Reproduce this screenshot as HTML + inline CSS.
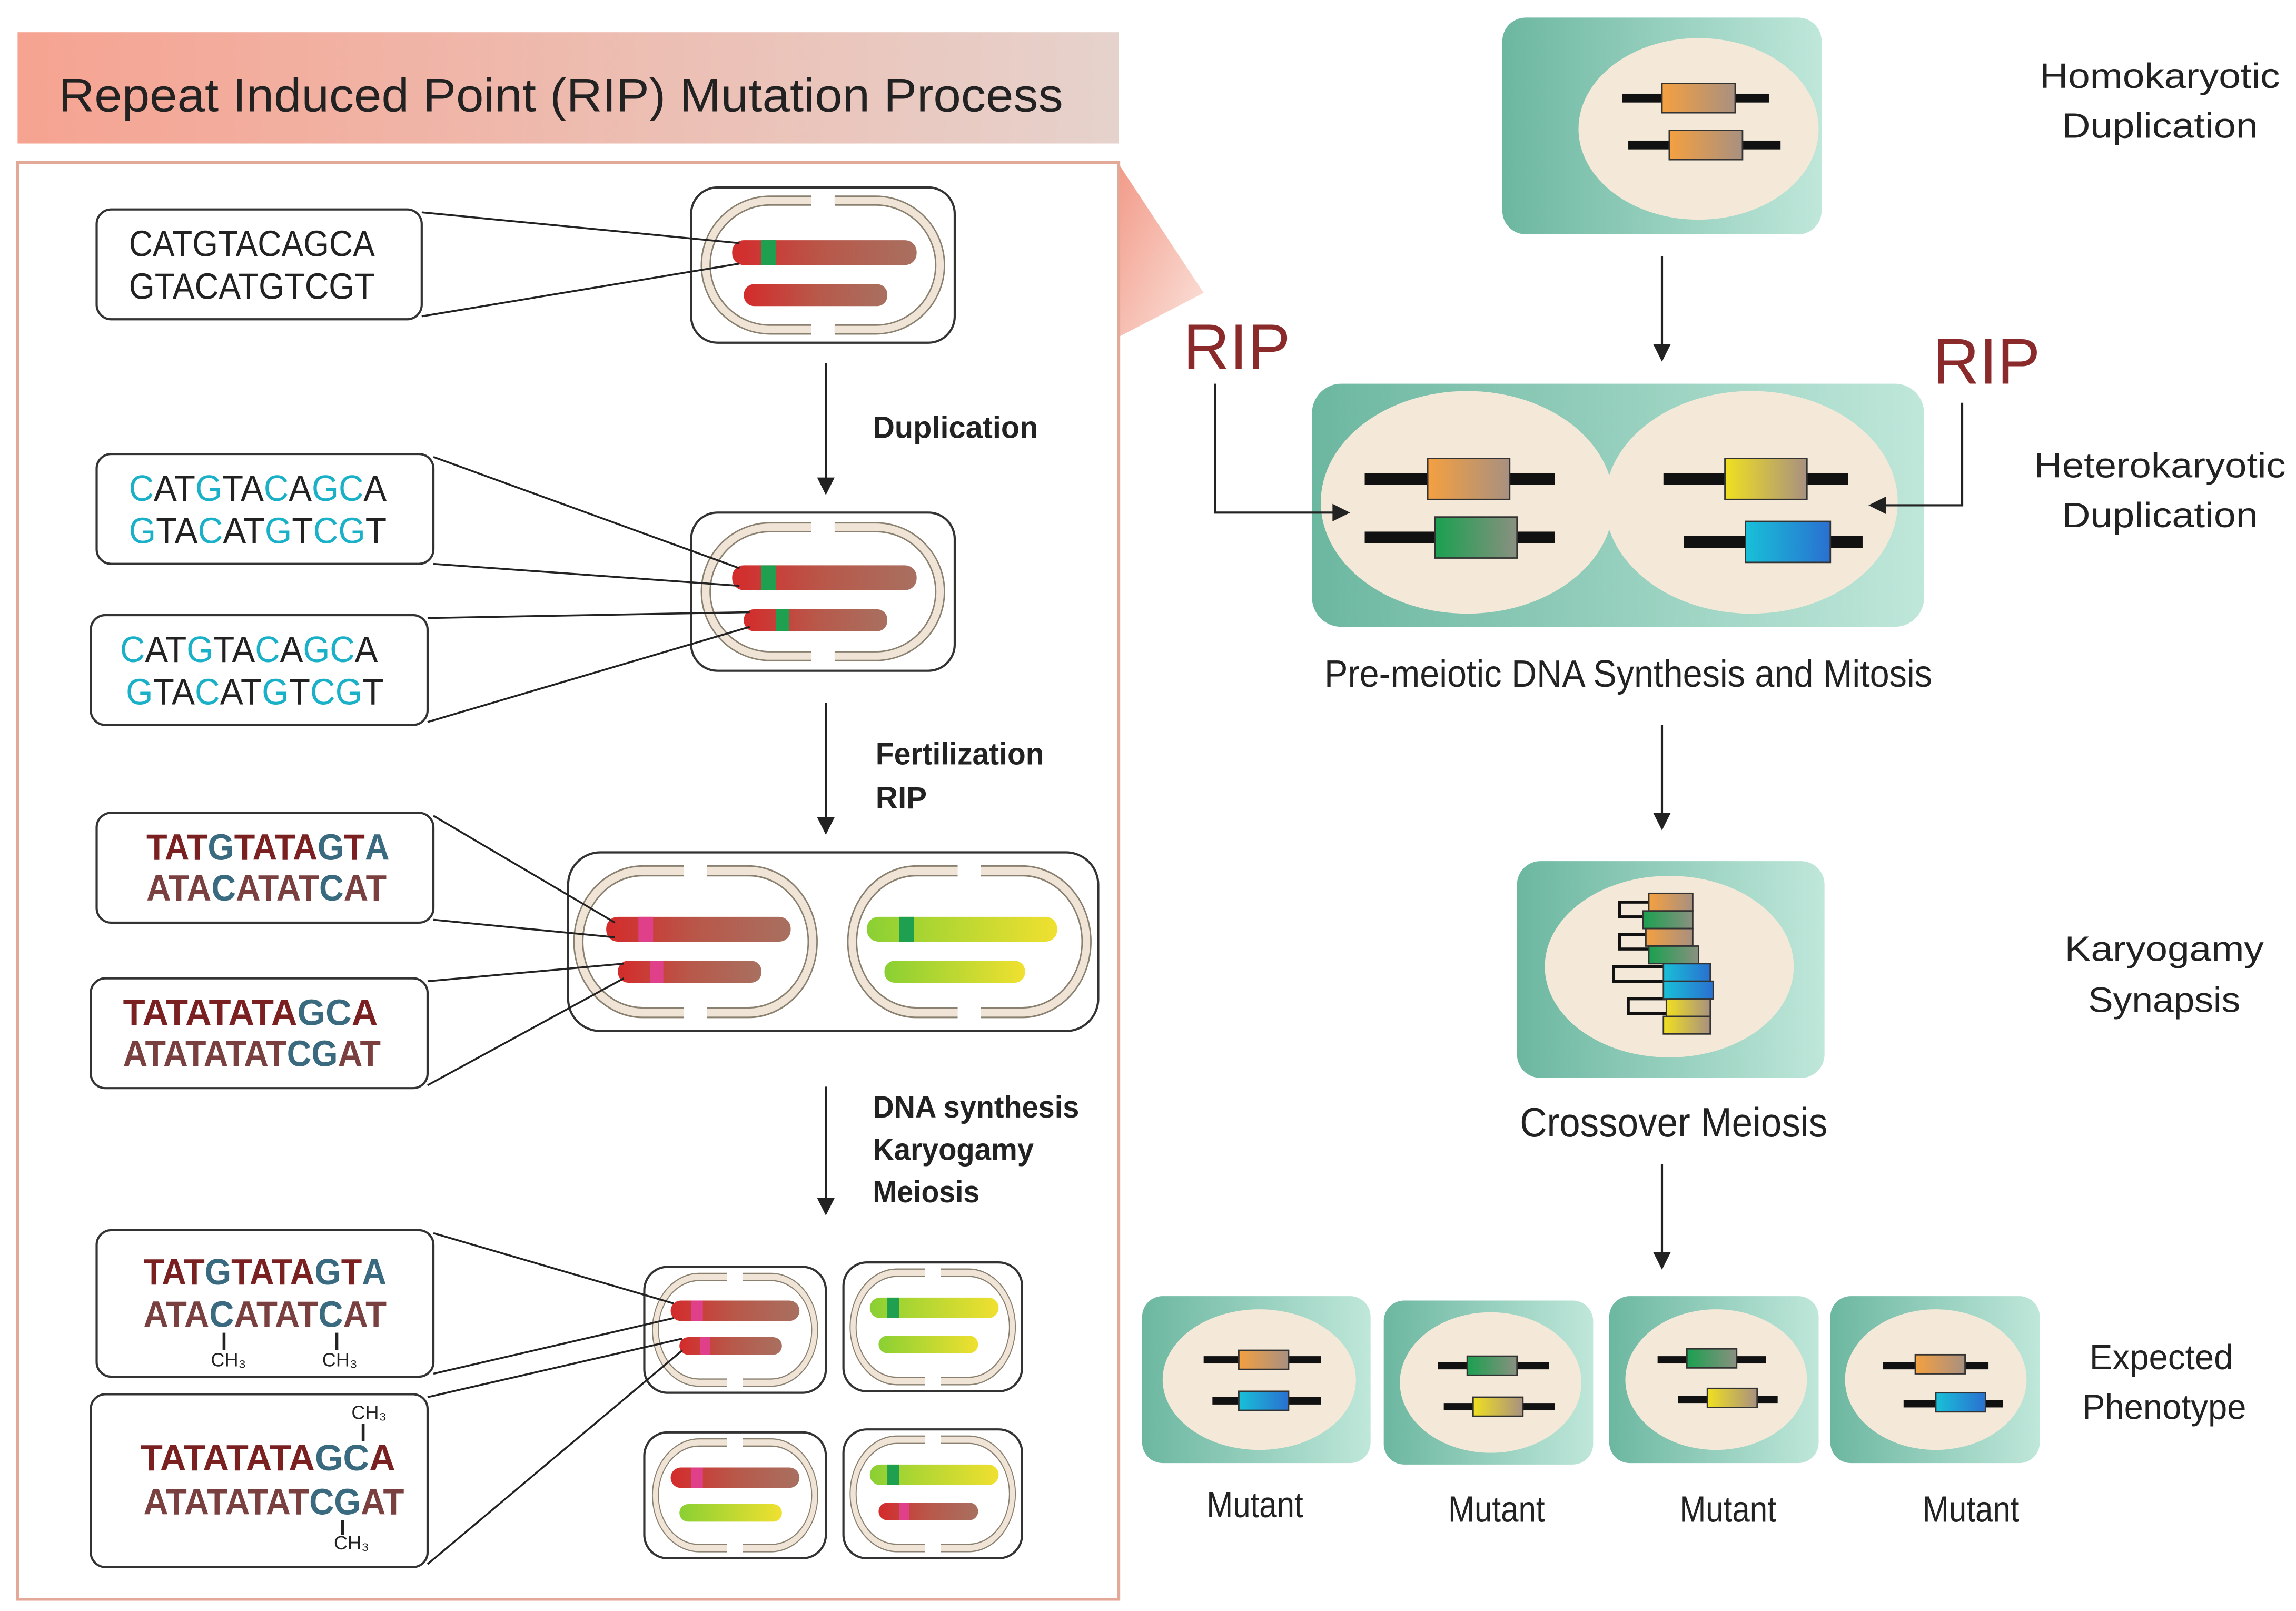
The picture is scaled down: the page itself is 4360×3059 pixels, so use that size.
<!DOCTYPE html>
<html><head><meta charset="utf-8"><style>
html,body{margin:0;padding:0;background:#fff;}
svg{display:block;}
text{font-family:"Liberation Sans",sans-serif;fill:#222;}
</style></head><body>
<svg width="4360" height="3059" viewBox="0 0 1568 1100" preserveAspectRatio="none" xmlns="http://www.w3.org/2000/svg">
<defs>
<linearGradient id="ban" x1="0" x2="1"><stop offset="0" stop-color="#f6a391"/><stop offset="1" stop-color="#e6d2cc"/></linearGradient>
<linearGradient id="wedge" x1="0" x2="1" y1="0" y2="1"><stop offset="0" stop-color="#f29a88"/><stop offset="1" stop-color="#fbe3dc"/></linearGradient>
<linearGradient id="grn" x1="0" x2="1"><stop offset="0" stop-color="#6cb7a0"/><stop offset="1" stop-color="#bfe7da"/></linearGradient>
<linearGradient id="red" x1="0" x2="1"><stop offset="0" stop-color="#d42b2b"/><stop offset="0.5" stop-color="#b8584a"/><stop offset="1" stop-color="#a87060"/></linearGradient>
<linearGradient id="yel" x1="0" x2="1"><stop offset="0" stop-color="#8ad033"/><stop offset="1" stop-color="#f0e030"/></linearGradient>
<linearGradient id="og" x1="0" x2="1"><stop offset="0" stop-color="#f4a040"/><stop offset="1" stop-color="#a89080"/></linearGradient>
<linearGradient id="gg" x1="0" x2="1"><stop offset="0" stop-color="#1aa050"/><stop offset="1" stop-color="#8a9080"/></linearGradient>
<linearGradient id="yg" x1="0" x2="1"><stop offset="0" stop-color="#f0e020"/><stop offset="1" stop-color="#a89080"/></linearGradient>
<linearGradient id="bl" x1="0" x2="1"><stop offset="0" stop-color="#18c0d8"/><stop offset="1" stop-color="#2a70d0"/></linearGradient>
<g id="ring">
<path d="M-8,-44 H-36 a44,44 0 0 0 0,88 H-8 M8,-44 H36 a44,44 0 0 1 0,88 H8" fill="none" stroke="#8a8070" stroke-width="7"/>
<path d="M-8,-44 H-36 a44,44 0 0 0 0,88 H-8 M8,-44 H36 a44,44 0 0 1 0,88 H8" fill="none" stroke="#efe4d6" stroke-width="5"/>
</g>
</defs>

<rect x="12" y="22" width="752" height="76" fill="url(#ban)"/>
<text x="40" y="76" font-size="32" fill="#333" textLength="686" lengthAdjust="spacingAndGlyphs">Repeat Induced Point (RIP) Mutation Process</text>
<polygon points="764,112 822,200 764,230" fill="url(#wedge)"/>
<rect x="12" y="111" width="752" height="981" fill="none" stroke="#e2a898" stroke-width="2"/>

<!-- Cell 1 -->
<rect x="472" y="128" width="180" height="106" rx="18" fill="#fff" stroke="#333" stroke-width="1.5"/>
<use href="#ring" transform="translate(562,181)"/>
<rect x="500" y="164" width="126" height="17" rx="8" fill="url(#red)"/>
<rect x="520" y="164" width="10" height="17" fill="#1fa050"/>
<rect x="508" y="194" width="98" height="15" rx="7" fill="url(#red)"/>
<rect x="66" y="143" width="222" height="75" rx="10" fill="#fff" stroke="#333" stroke-width="1.5"/>
<text x="88" y="175" font-size="25" textLength="168" lengthAdjust="spacingAndGlyphs">CATGTACAGCA</text>
<text x="88" y="204" font-size="25" textLength="168" lengthAdjust="spacingAndGlyphs">GTACATGTCGT</text>
<line x1="288" y1="145" x2="505" y2="166" stroke="#222" stroke-width="1.3"/>
<line x1="288" y1="216" x2="505" y2="180" stroke="#222" stroke-width="1.3"/>

<line x1="564" y1="248" x2="564" y2="334" stroke="#222" stroke-width="1.5"/>
<polygon points="558,326 564,338 570,326" fill="#222"/>
<text x="596" y="299" font-size="21" font-weight="bold" textLength="113" lengthAdjust="spacingAndGlyphs">Duplication</text>

<!-- Cell 2 -->
<rect x="472" y="350" width="180" height="108" rx="18" fill="#fff" stroke="#333" stroke-width="1.5"/>
<use href="#ring" transform="translate(562,404)"/>
<rect x="500" y="386" width="126" height="17" rx="8" fill="url(#red)"/>
<rect x="520" y="386" width="10" height="17" fill="#1fa050"/>
<rect x="508" y="416" width="98" height="15" rx="7" fill="url(#red)"/>
<rect x="530" y="416" width="9" height="15" fill="#1fa050"/>
<rect x="66" y="310" width="230" height="75" rx="10" fill="#fff" stroke="#333" stroke-width="1.5"/>
<text x="88" y="342" font-size="25" textLength="176" lengthAdjust="spacingAndGlyphs"><tspan fill="#1ab0c8">C</tspan>AT<tspan fill="#1ab0c8">G</tspan>TA<tspan fill="#1ab0c8">C</tspan>A<tspan fill="#1ab0c8">GC</tspan>A</text>
<text x="88" y="371" font-size="25" textLength="176" lengthAdjust="spacingAndGlyphs"><tspan fill="#1ab0c8">G</tspan>TA<tspan fill="#1ab0c8">C</tspan>AT<tspan fill="#1ab0c8">G</tspan>T<tspan fill="#1ab0c8">CG</tspan>T</text>
<rect x="62" y="420" width="230" height="75" rx="10" fill="#fff" stroke="#333" stroke-width="1.5"/>
<text x="82" y="452" font-size="25" textLength="176" lengthAdjust="spacingAndGlyphs"><tspan fill="#1ab0c8">C</tspan>AT<tspan fill="#1ab0c8">G</tspan>TA<tspan fill="#1ab0c8">C</tspan>A<tspan fill="#1ab0c8">GC</tspan>A</text>
<text x="86" y="481" font-size="25" textLength="176" lengthAdjust="spacingAndGlyphs"><tspan fill="#1ab0c8">G</tspan>TA<tspan fill="#1ab0c8">C</tspan>AT<tspan fill="#1ab0c8">G</tspan>T<tspan fill="#1ab0c8">CG</tspan>T</text>
<line x1="296" y1="312" x2="505" y2="388" stroke="#222" stroke-width="1.3"/>
<line x1="296" y1="385" x2="505" y2="400" stroke="#222" stroke-width="1.3"/>
<line x1="292" y1="422" x2="512" y2="418" stroke="#222" stroke-width="1.3"/>
<line x1="292" y1="493" x2="512" y2="428" stroke="#222" stroke-width="1.3"/>

<line x1="564" y1="480" x2="564" y2="566" stroke="#222" stroke-width="1.5"/>
<polygon points="558,558 564,570 570,558" fill="#222"/>
<text x="598" y="522" font-size="21" font-weight="bold" textLength="115" lengthAdjust="spacingAndGlyphs">Fertilization</text>
<text x="598" y="552" font-size="21" font-weight="bold">RIP</text>

<!-- Cell 3 -->
<rect x="388" y="582" width="362" height="122" rx="22" fill="#fff" stroke="#333" stroke-width="1.5"/>
<use href="#ring" transform="translate(475,643) scale(1,1.1)"/>
<use href="#ring" transform="translate(662,643) scale(1,1.1)"/>
<rect x="414" y="626" width="126" height="17" rx="8" fill="url(#red)"/>
<rect x="436" y="626" width="10" height="17" fill="#e0408a"/>
<rect x="422" y="656" width="98" height="15" rx="7" fill="url(#red)"/>
<rect x="444" y="656" width="9" height="15" fill="#e0408a"/>
<rect x="592" y="626" width="130" height="17" rx="8" fill="url(#yel)"/>
<rect x="614" y="626" width="10" height="17" fill="#1fa050"/>
<rect x="604" y="656" width="96" height="15" rx="7" fill="url(#yel)"/>
<rect x="66" y="555" width="230" height="75" rx="10" fill="#fff" stroke="#333" stroke-width="1.5"/>
<text x="100" y="587" font-size="25" font-weight="bold" textLength="166" lengthAdjust="spacingAndGlyphs"><tspan fill="#7a2020">TAT</tspan><tspan fill="#3a6a80">G</tspan><tspan fill="#7a2020">TATA</tspan><tspan fill="#3a6a80">G</tspan><tspan fill="#7a2020">T</tspan><tspan fill="#3a6a80">A</tspan></text>
<text x="100" y="615" font-size="25" font-weight="bold" textLength="164" lengthAdjust="spacingAndGlyphs"><tspan fill="#7a4040">ATA</tspan><tspan fill="#3a6a80">C</tspan><tspan fill="#7a4040">ATAT</tspan><tspan fill="#3a6a80">C</tspan><tspan fill="#7a4040">AT</tspan></text>
<rect x="62" y="668" width="230" height="75" rx="10" fill="#fff" stroke="#333" stroke-width="1.5"/>
<text x="84" y="700" font-size="25" font-weight="bold" textLength="174" lengthAdjust="spacingAndGlyphs"><tspan fill="#7a2020">TATATATA</tspan><tspan fill="#3a6a80">GC</tspan><tspan fill="#7a2020">A</tspan></text>
<text x="84" y="728" font-size="25" font-weight="bold" textLength="176" lengthAdjust="spacingAndGlyphs"><tspan fill="#7a4040">ATATATAT</tspan><tspan fill="#3a6a80">CG</tspan><tspan fill="#7a4040">AT</tspan></text>
<line x1="296" y1="557" x2="420" y2="630" stroke="#222" stroke-width="1.3"/>
<line x1="296" y1="628" x2="420" y2="640" stroke="#222" stroke-width="1.3"/>
<line x1="292" y1="670" x2="426" y2="658" stroke="#222" stroke-width="1.3"/>
<line x1="292" y1="741" x2="426" y2="668" stroke="#222" stroke-width="1.3"/>

<line x1="564" y1="742" x2="564" y2="826" stroke="#222" stroke-width="1.5"/>
<polygon points="558,818 564,830 570,818" fill="#222"/>
<text x="596" y="763" font-size="21" font-weight="bold" textLength="141" lengthAdjust="spacingAndGlyphs">DNA synthesis</text>
<text x="596" y="792" font-size="21" font-weight="bold" textLength="110" lengthAdjust="spacingAndGlyphs">Karyogamy</text>
<text x="596" y="821" font-size="21" font-weight="bold" textLength="73" lengthAdjust="spacingAndGlyphs">Meiosis</text>

<!-- Cells 4 -->
<g>
<rect x="440" y="865" width="124" height="86" rx="16" fill="#fff" stroke="#333" stroke-width="1.5"/>
<use href="#ring" transform="translate(502,908) scale(0.68,0.82)"/>
<rect x="458" y="888" width="88" height="14" rx="7" fill="url(#red)"/>
<rect x="472" y="888" width="8" height="14" fill="#e0408a"/>
<rect x="464" y="913" width="70" height="12" rx="6" fill="url(#red)"/>
<rect x="478" y="913" width="7" height="12" fill="#e0408a"/>

<rect x="576" y="862" width="122" height="88" rx="16" fill="#fff" stroke="#333" stroke-width="1.5"/>
<use href="#ring" transform="translate(637,906) scale(0.68,0.84)"/>
<rect x="594" y="886" width="88" height="14" rx="7" fill="url(#yel)"/>
<rect x="606" y="886" width="8" height="14" fill="#1fa050"/>
<rect x="600" y="912" width="68" height="12" rx="6" fill="url(#yel)"/>

<rect x="440" y="978" width="124" height="86" rx="16" fill="#fff" stroke="#333" stroke-width="1.5"/>
<use href="#ring" transform="translate(502,1021) scale(0.68,0.82)"/>
<rect x="458" y="1002" width="88" height="14" rx="7" fill="url(#red)"/>
<rect x="472" y="1002" width="8" height="14" fill="#e0408a"/>
<rect x="464" y="1027" width="70" height="12" rx="6" fill="url(#yel)"/>

<rect x="576" y="976" width="122" height="88" rx="16" fill="#fff" stroke="#333" stroke-width="1.5"/>
<use href="#ring" transform="translate(637,1020) scale(0.68,0.84)"/>
<rect x="594" y="1000" width="88" height="14" rx="7" fill="url(#yel)"/>
<rect x="606" y="1000" width="8" height="14" fill="#1fa050"/>
<rect x="600" y="1026" width="68" height="12" rx="6" fill="url(#red)"/>
<rect x="614" y="1026" width="7" height="12" fill="#e0408a"/>
</g>
<rect x="66" y="840" width="230" height="100" rx="10" fill="#fff" stroke="#333" stroke-width="1.5"/>
<text x="98" y="877" font-size="25" font-weight="bold" textLength="166" lengthAdjust="spacingAndGlyphs"><tspan fill="#7a2020">TAT</tspan><tspan fill="#3a6a80">G</tspan><tspan fill="#7a2020">TATA</tspan><tspan fill="#3a6a80">G</tspan><tspan fill="#7a2020">T</tspan><tspan fill="#3a6a80">A</tspan></text>
<text x="98" y="906" font-size="25" font-weight="bold" textLength="166" lengthAdjust="spacingAndGlyphs"><tspan fill="#7a4040">ATA</tspan><tspan fill="#3a6a80">C</tspan><tspan fill="#7a4040">ATAT</tspan><tspan fill="#3a6a80">C</tspan><tspan fill="#7a4040">AT</tspan></text>
<line x1="153" y1="910" x2="153" y2="922" stroke="#222" stroke-width="2"/>
<line x1="230" y1="910" x2="230" y2="922" stroke="#222" stroke-width="2"/>
<text x="144" y="933" font-size="13">CH₃</text>
<text x="220" y="933" font-size="13">CH₃</text>
<rect x="62" y="952" width="230" height="118" rx="10" fill="#fff" stroke="#333" stroke-width="1.5"/>
<text x="240" y="969" font-size="13">CH₃</text>
<line x1="248" y1="972" x2="248" y2="984" stroke="#222" stroke-width="2"/>
<text x="96" y="1004" font-size="25" font-weight="bold" textLength="174" lengthAdjust="spacingAndGlyphs"><tspan fill="#7a2020">TATATATA</tspan><tspan fill="#3a6a80">GC</tspan><tspan fill="#7a2020">A</tspan></text>
<text x="98" y="1034" font-size="25" font-weight="bold" textLength="178" lengthAdjust="spacingAndGlyphs"><tspan fill="#7a4040">ATATATAT</tspan><tspan fill="#3a6a80">CG</tspan><tspan fill="#7a4040">AT</tspan></text>
<line x1="234" y1="1038" x2="234" y2="1048" stroke="#222" stroke-width="2"/>
<text x="228" y="1058" font-size="13">CH₃</text>
<line x1="296" y1="842" x2="460" y2="890" stroke="#222" stroke-width="1.3"/>
<line x1="296" y1="938" x2="460" y2="900" stroke="#222" stroke-width="1.3"/>
<line x1="292" y1="954" x2="466" y2="914" stroke="#222" stroke-width="1.3"/>
<line x1="292" y1="1068" x2="466" y2="922" stroke="#222" stroke-width="1.3"/>

<!-- RIGHT SIDE -->
<rect x="1026" y="12" width="218" height="148" rx="16" fill="url(#grn)"/>
<ellipse cx="1160" cy="88" rx="82" ry="62" fill="#f4e9d8"/>
<rect x="1108" y="64" width="100" height="6" fill="#111"/><rect x="1135" y="57" width="50" height="20" fill="url(#og)" stroke="#333" stroke-width="1"/>
<rect x="1112" y="96" width="104" height="6" fill="#111"/><rect x="1140" y="89" width="50" height="20" fill="url(#og)" stroke="#333" stroke-width="1"/>
<text x="1475" y="60" font-size="24" text-anchor="middle" textLength="164" lengthAdjust="spacingAndGlyphs">Homokaryotic</text>
<text x="1475" y="94" font-size="24" text-anchor="middle" textLength="134" lengthAdjust="spacingAndGlyphs">Duplication</text>

<line x1="1135" y1="175" x2="1135" y2="243" stroke="#222" stroke-width="1.5"/>
<polygon points="1129,235 1135,247 1141,235" fill="#222"/>

<rect x="896" y="262" width="418" height="166" rx="20" fill="url(#grn)"/>
<ellipse cx="1002" cy="343" rx="100" ry="76" fill="#f4e9d8"/>
<ellipse cx="1196" cy="343" rx="100" ry="76" fill="#f4e9d8"/>
<rect x="932" y="323" width="130" height="8" fill="#111"/><rect x="975" y="313" width="56" height="28" fill="url(#og)" stroke="#333" stroke-width="1"/>
<rect x="932" y="363" width="130" height="8" fill="#111"/><rect x="980" y="353" width="56" height="28" fill="url(#gg)" stroke="#333" stroke-width="1"/>
<rect x="1136" y="323" width="126" height="8" fill="#111"/><rect x="1178" y="313" width="56" height="28" fill="url(#yg)" stroke="#333" stroke-width="1"/>
<rect x="1150" y="366" width="122" height="8" fill="#111"/><rect x="1192" y="356" width="58" height="28" fill="url(#bl)" stroke="#333" stroke-width="1"/>
<text x="808" y="252" font-size="44" style="fill:#8b2a2a">RIP</text>
<text x="1320" y="262" font-size="44" style="fill:#8b2a2a">RIP</text>
<polyline points="830,262 830,350 918,350" fill="none" stroke="#222" stroke-width="1.5"/>
<polygon points="910,344 922,350 910,356" fill="#222"/>
<polyline points="1340,275 1340,345 1280,345" fill="none" stroke="#222" stroke-width="1.5"/>
<polygon points="1288,339 1276,345 1288,351" fill="#222"/>
<text x="1112" y="469" font-size="26" text-anchor="middle" textLength="415" lengthAdjust="spacingAndGlyphs">Pre-meiotic DNA Synthesis and Mitosis</text>
<text x="1475" y="326" font-size="24" text-anchor="middle" textLength="172" lengthAdjust="spacingAndGlyphs">Heterokaryotic</text>
<text x="1475" y="360" font-size="24" text-anchor="middle" textLength="134" lengthAdjust="spacingAndGlyphs">Duplication</text>

<line x1="1135" y1="495" x2="1135" y2="563" stroke="#222" stroke-width="1.5"/>
<polygon points="1129,555 1135,567 1141,555" fill="#222"/>

<rect x="1036" y="588" width="210" height="148" rx="16" fill="url(#grn)"/>
<ellipse cx="1140" cy="660" rx="85" ry="62" fill="#f4e9d8"/>
<g stroke="#111" stroke-width="2" fill="none">
<rect x="1106" y="616" width="44" height="10"/><rect x="1106" y="638" width="44" height="10"/><rect x="1102" y="660" width="44" height="10"/><rect x="1112" y="682" width="44" height="10"/>
</g>
<rect x="1126" y="610" width="30" height="12" fill="url(#og)" stroke="#333"/>
<rect x="1122" y="622" width="34" height="12" fill="url(#gg)" stroke="#333"/>
<rect x="1124" y="634" width="32" height="12" fill="url(#og)" stroke="#333"/>
<rect x="1126" y="646" width="34" height="12" fill="url(#gg)" stroke="#333"/>
<rect x="1136" y="658" width="32" height="12" fill="url(#bl)" stroke="#333"/>
<rect x="1136" y="670" width="34" height="12" fill="url(#bl)" stroke="#333"/>
<rect x="1138" y="682" width="30" height="12" fill="url(#yg)" stroke="#333"/>
<rect x="1136" y="694" width="32" height="12" fill="url(#yg)" stroke="#333"/>
<text x="1143" y="776" font-size="28" text-anchor="middle" textLength="210" lengthAdjust="spacingAndGlyphs">Crossover Meiosis</text>
<text x="1478" y="656" font-size="24" text-anchor="middle" textLength="136" lengthAdjust="spacingAndGlyphs">Karyogamy</text>
<text x="1478" y="691" font-size="24" text-anchor="middle" textLength="104" lengthAdjust="spacingAndGlyphs">Synapsis</text>

<line x1="1135" y1="795" x2="1135" y2="863" stroke="#222" stroke-width="1.5"/>
<polygon points="1129,855 1135,867 1141,855" fill="#222"/>

<g>
<rect x="780" y="885" width="156" height="114" rx="14" fill="url(#grn)"/>
<ellipse cx="860" cy="942" rx="66" ry="48" fill="#f4e9d8"/>
<rect x="822" y="926" width="80" height="5" fill="#111"/><rect x="846" y="922" width="34" height="13" fill="url(#og)" stroke="#333"/>
<rect x="828" y="954" width="74" height="5" fill="#111"/><rect x="846" y="950" width="34" height="13" fill="url(#bl)" stroke="#333"/>
<text x="857" y="1036" font-size="25" text-anchor="middle" textLength="66" lengthAdjust="spacingAndGlyphs">Mutant</text>

<rect x="945" y="888" width="143" height="112" rx="14" fill="url(#grn)"/>
<ellipse cx="1018" cy="944" rx="62" ry="48" fill="#f4e9d8"/>
<rect x="982" y="930" width="76" height="5" fill="#111"/><rect x="1002" y="926" width="34" height="13" fill="url(#gg)" stroke="#333"/>
<rect x="986" y="958" width="76" height="5" fill="#111"/><rect x="1006" y="954" width="34" height="13" fill="url(#yg)" stroke="#333"/>
<text x="1022" y="1039" font-size="25" text-anchor="middle" textLength="66" lengthAdjust="spacingAndGlyphs">Mutant</text>

<rect x="1099" y="885" width="143" height="114" rx="14" fill="url(#grn)"/>
<ellipse cx="1172" cy="942" rx="62" ry="48" fill="#f4e9d8"/>
<rect x="1132" y="926" width="74" height="5" fill="#111"/><rect x="1152" y="921" width="34" height="13" fill="url(#gg)" stroke="#333"/>
<rect x="1146" y="953" width="68" height="5" fill="#111"/><rect x="1166" y="948" width="34" height="13" fill="url(#yg)" stroke="#333"/>
<text x="1180" y="1039" font-size="25" text-anchor="middle" textLength="66" lengthAdjust="spacingAndGlyphs">Mutant</text>

<rect x="1250" y="885" width="143" height="114" rx="14" fill="url(#grn)"/>
<ellipse cx="1322" cy="942" rx="62" ry="48" fill="#f4e9d8"/>
<rect x="1286" y="930" width="72" height="5" fill="#111"/><rect x="1308" y="925" width="34" height="13" fill="url(#og)" stroke="#333"/>
<rect x="1300" y="956" width="68" height="5" fill="#111"/><rect x="1322" y="951" width="34" height="13" fill="url(#bl)" stroke="#333"/>
<text x="1346" y="1039" font-size="25" text-anchor="middle" textLength="66" lengthAdjust="spacingAndGlyphs">Mutant</text>
</g>
<text x="1476" y="935" font-size="24" text-anchor="middle" textLength="98" lengthAdjust="spacingAndGlyphs">Expected</text>
<text x="1478" y="969" font-size="24" text-anchor="middle" textLength="112" lengthAdjust="spacingAndGlyphs">Phenotype</text>
</svg>
</body></html>
